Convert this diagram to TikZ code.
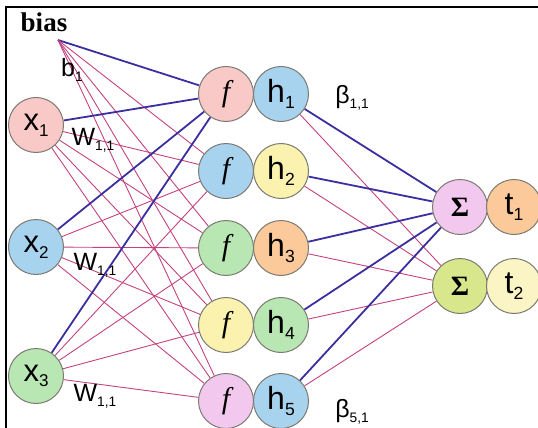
\documentclass[tikz,border=0pt]{standalone}
\usepackage{fontspec}
\setmainfont{Liberation Sans}
\newfontfamily\seriffont{Liberation Serif}
\usetikzlibrary{positioning,backgrounds}
\definecolor{nodeline}{HTML}{7A7A72}
\definecolor{wblue}{HTML}{3B2E9E}
\definecolor{wpink}{HTML}{C4427E}
\definecolor{cpink}{HTML}{F8C9C6}
\definecolor{cblue}{HTML}{A8D3EE}
\definecolor{cgreen}{HTML}{B9E7B3}
\definecolor{cyellow}{HTML}{FCF2B0}
\definecolor{clilac}{HTML}{F3C8EE}
\definecolor{corange}{HTML}{FBC99A}
\definecolor{colive}{HTML}{D8E68C}
\definecolor{ccream}{HTML}{FBF4C4}
\newcommand{\lowidx}[1]{\raisebox{-0.35ex}{\scalebox{0.55}{#1}}}
\tikzset{
  neuron/.style={circle, draw=nodeline, line width=1pt, minimum size=55pt, inner sep=0pt, font=\fontsize{32}{34}\selectfont},
  inneuron/.style={neuron, font=\fontsize{31}{33}\selectfont},
  actneuron/.style={neuron, font=\fontsize{30}{32}\selectfont\seriffont\itshape},
  sumneuron/.style={neuron, font=\fontsize{28}{30}\selectfont\seriffont\bfseries},
  weightlabel/.style={font=\fontsize{25}{27}\selectfont, inner sep=1pt},
  blueedge/.style={draw=wblue, line width=1.8pt},
  pinkedge/.style={draw=wpink, line width=0.9pt}
}

\begin{document}
\begin{tikzpicture}[x=1pt, y=-1pt]
  \useasboundingbox (0,0) rectangle (538,428);
  \draw[line width=2pt] (538,7) -- (6,7) -- (6,428);

  \node[font=\fontsize{27}{29}\selectfont\seriffont\bfseries] (biastext) at (44,22) {bias};
  \coordinate (bias) at (58,40);

  % inputs
  \node[inneuron, fill=cpink] (x1) at (36,125) {x\lowidx{1}};
  \node[inneuron, fill=cblue] (x2) at (36,247) {x\lowidx{2}};
  \node[inneuron, fill=cgreen] (x3) at (36,376) {x\lowidx{3}};

  % hidden layer
  \node[actneuron, fill=cpink] (f1) at (226,94) {f};
  \node[actneuron, fill=cblue] (f2) at (226,171) {f};
  \node[actneuron, fill=cgreen] (f3) at (226,248) {f};
  \node[actneuron, fill=cyellow] (f4) at (226,325) {f};
  \node[actneuron, fill=clilac] (f5) at (226,401) {f};
  \node[neuron, fill=cblue] (h1) at (281,94) {h\lowidx{1}};
  \node[neuron, fill=cyellow] (h2) at (281,171) {h\lowidx{2}};
  \node[neuron, fill=corange] (h3) at (281,248) {h\lowidx{3}};
  \node[neuron, fill=cgreen] (h4) at (281,325) {h\lowidx{4}};
  \node[neuron, fill=cblue] (h5) at (281,401) {h\lowidx{5}};

  % outputs
  \node[sumneuron, fill=clilac] (s1) at (460,207) {Σ};
  \node[sumneuron, fill=colive] (s2) at (460,286) {Σ};
  \node[neuron, fill=corange] (t1) at (514,207) {t\lowidx{1}};
  \node[neuron, fill=ccream] (t2) at (514,286) {t\lowidx{2}};

  \begin{scope}[on background layer]
    \draw[blueedge] (bias) -- (f1);
    \foreach \j in {2,...,5}
      \draw[pinkedge] (bias) -- (f\j);
    \foreach \i in {1,2,3} {
      \foreach \j in {2,...,5}
        \draw[pinkedge] (x\i) -- (f\j);
      \draw[blueedge] (x\i) -- (f1);
    }
    \foreach \j in {1,...,5} {
      \draw[pinkedge] (h\j) -- (s2);
      \draw[blueedge] (h\j) -- (s1);
    }
  \end{scope}

  \node[weightlabel] (b1) at (72,70) {b\lowidx{1}};
  \node[weightlabel] (w1) at (93,140) {W\lowidx{1,1}};
  \node[weightlabel] (w2) at (95,265) {W\lowidx{1,1}};
  \node[weightlabel] (w3) at (95,396) {W\lowidx{1,1}};
  \node[weightlabel] (beta1) at (352,98) {β\lowidx{1,1}};
  \node[weightlabel] (beta5) at (352,412) {β\lowidx{5,1}};
\end{tikzpicture}
\end{document}
